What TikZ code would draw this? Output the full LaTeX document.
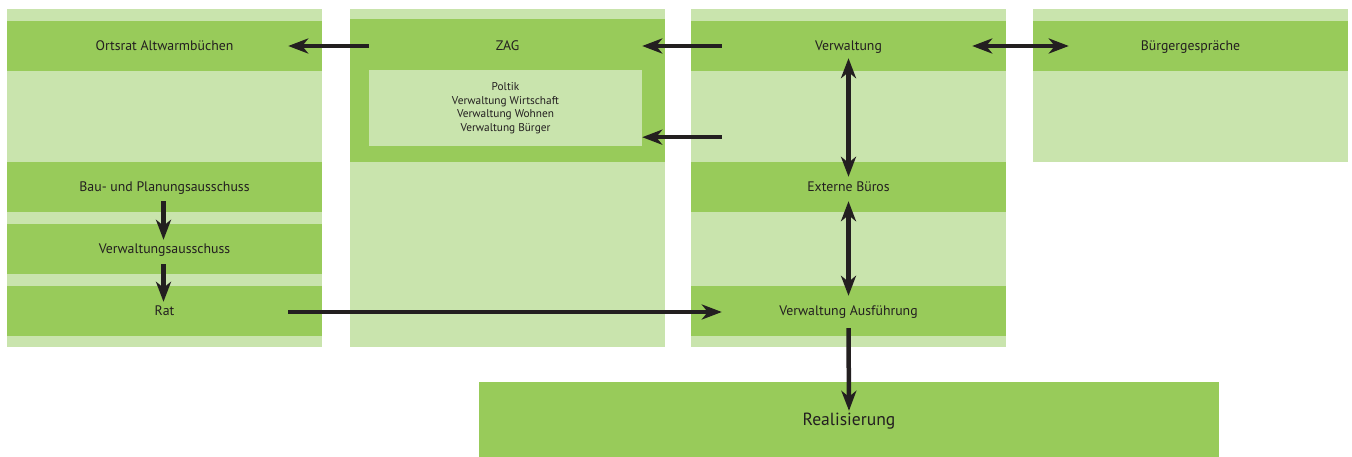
\documentclass[tikz,border=0pt]{standalone}
\usepackage{fontspec}
\setmainfont{PT Sans}
\usepackage{tikz}
\usetikzlibrary{arrows.meta, positioning, calc}

\definecolor{bandgreen}{RGB}{152,203,90}
\definecolor{palegreen}{RGB}{201,228,173}
\definecolor{inktext}{RGB}{35,31,32}

\tikzset{
  band/.style={fill=bandgreen, minimum width=315pt, minimum height=50pt, inner sep=0pt,
    text depth=0pt, text=inktext, font=\fontsize{13.8}{16}\selectfont},
  flow/.style={line width=4.5pt, draw=inktext, -{Stealth[length=20pt, width=15pt, inset=6pt]}},
  twoway/.style={line width=4.5pt, draw=inktext,
    {Stealth[length=20pt, width=15pt, inset=6pt]}-{Stealth[length=20pt, width=15pt, inset=6pt]}}
}

\begin{document}
\begin{tikzpicture}[x=1pt, y=-1pt]
        \useasboundingbox (0,0) rectangle (1352,457);

        % Columns
        \foreach \left/\bottom in {7/347, 350/347, 691/347, 1033/162} {
            \fill[palegreen] (\left,9) rectangle ++(315,\bottom-9);
        }

        % Left column
        \node[band] (ortsrat) at (164.5,46) {Ortsrat Altwarmbüchen};
        \node[band] (bau) at (164.5,187) {Bau- und Planungsausschuss};
        \node[band] (vwa) at (164.5,249) {Verwaltungsausschuss};
        \node[band] (rat) at (164.5,311) {Rat};

        % ZAG column
        \node[band, minimum height=143pt] (zagblock) at (507.5,90.5) {};
        \node[text=inktext, text depth=0pt, font=\fontsize{13.8}{16}\selectfont] (zag) at (507.5,46) {ZAG};
        \node[fill=palegreen, minimum width=273pt, minimum height=76pt, inner sep=0pt,
              text=inktext, align=center, font=\fontsize{11.3}{13.6}\selectfont]
              (zagmembers) at (505.5,108)
              {Poltik\\Verwaltung Wirtschaft\\Verwaltung Wohnen\\Verwaltung Bürger};

        % Verwaltung column
        \node[band] (verw) at (848.5,46) {Verwaltung};
        \node[band] (externe) at (848.5,187) {Externe Büros};
        \node[band] (ausf) at (848.5,311) {Verwaltung Ausführung};

        % Right column
        \node[band] (buerger) at (1190.5,46) {Bürgergespräche};

        % Realisierung
        \node[band, minimum width=740pt, minimum height=75pt,
              font=\fontsize{17.6}{21}\selectfont] (real) at (849,419.5) {Realisierung};

        % Arrows
        \draw[flow] (zag -| zagmembers.west) -- ($(ortsrat.east)+(-34,0)$);
        \draw[flow] ($(verw.west)+(31,0)$) -- (zag -| zagmembers.east);
        \draw[flow] ($(verw.west |- zagmembers.south)+(31,-9)$) -- ($(zagmembers.south east)+(0,-9)$);
        \draw[twoway] ($(verw.east)+(-34,0)$) -- ($(buerger.west)+(36,0)$);
        \draw[twoway] ($(verw.south)+(0,-13)$) -- ($(externe.north)+(0,15)$);
        \draw[twoway] ($(externe.south)+(0,-11)$) -- ($(ausf.north)+(0,10)$);
        \draw[flow] ($(bau.south)+(-1,-11)$) -- ($(vwa.north)+(-1,16)$);
        \draw[flow] ($(vwa.south)+(-1,-10)$) -- ($(rat.north)+(-1,16)$);
        \draw[flow] ($(rat.east)+(-34,1)$) -- ($(ausf.west)+(31,1)$);
        \draw[flow] ($(ausf.south)+(0,-8)$) -- ($(real.north)+(0,29)$);

    \end{tikzpicture}
\end{document}
